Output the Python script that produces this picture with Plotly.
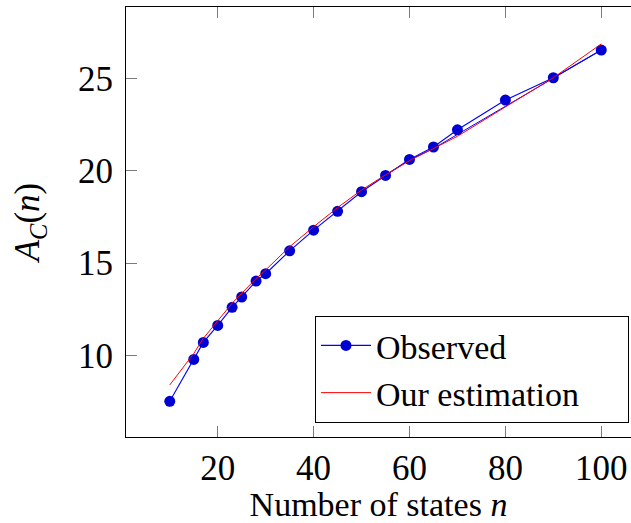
import plotly.graph_objects as go

# Data
n_states = [10, 15, 17, 20, 23, 25, 28, 30, 35, 40, 45, 50, 55, 60, 65, 70, 80, 90, 100]
observed = [7.51, 9.78, 10.70, 11.62, 12.60, 13.16, 14.02, 14.42, 15.66, 16.78,
            17.80, 18.86, 19.74, 20.61, 21.28, 22.21, 23.82, 25.03, 26.53]
estimation = [8.40, 10.10, 10.92, 11.87, 12.82, 13.36, 14.16, 14.62, 15.88, 16.96,
              18.00, 18.95, 19.77, 20.54, 21.18, 21.86, 23.45, 25.03, 26.86]
# faint second blue polyline visible in the upper range
second_n = [55, 60, 65, 70, 80, 90, 100]
second_vals = [19.76, 20.58, 21.20, 21.96, 23.52, 25.03, 26.53]

x_ticks = [20, 40, 60, 80, 100]
y_ticks = [10, 15, 20, 25]

FONT = "Liberation Serif"
FS = 35

fig = go.Figure()
fig.add_trace(go.Scatter(
    x=second_n, y=second_vals, mode="lines",
    line=dict(color="#0000ff", width=1), showlegend=False, hoverinfo="skip"))
fig.add_trace(go.Scatter(
    x=n_states, y=observed, mode="lines+markers", name="Observed",
    line=dict(color="#0000ff", width=1.1),
    marker=dict(color="#0000d4", size=11, line=dict(width=0))))
fig.add_trace(go.Scatter(
    x=n_states, y=estimation, mode="lines", name="Our estimation",
    line=dict(color="#ff0000", width=1)))

fig.update_layout(
    width=631, height=523,
    margin=dict(l=126, r=0, t=7, b=86, autoexpand=False),
    paper_bgcolor="white", plot_bgcolor="white",
    font=dict(family=FONT, size=FS, color="black"),
    showlegend=True,
    legend=dict(
        orientation="h",
        x=0.996, y=0.033, xanchor="right", yanchor="bottom",
        bgcolor="white", bordercolor="black", borderwidth=1,
        font=dict(family=FONT, size=34), itemwidth=50,
        entrywidth=247, entrywidthmode="pixels",
        tracegroupgap=0),
)
fig.update_xaxes(
    range=[0.87, 106.2], tickvals=x_ticks, ticktext=[str(v) for v in x_ticks],
    showgrid=False, zeroline=False,
    showline=True, linecolor="black", linewidth=1, mirror="ticks",
    ticks="inside", ticklen=11, tickcolor="#7a7a7a", tickwidth=1,
    ticklabelstandoff=0,
    title=dict(text="Number of states <i>n</i>", font=dict(family=FONT, size=34), standoff=22),
)
fig.update_yaxes(
    range=[5.58, 28.86], tickvals=y_ticks, ticktext=[str(v) for v in y_ticks],
    showgrid=False, zeroline=False,
    showline=True, linecolor="black", linewidth=1, mirror=False,
    ticks="inside", ticklen=11, tickcolor="#7a7a7a", tickwidth=1,
    ticklabelstandoff=5,
    title=dict(text="<i>A</i><sub><i>C</i></sub>(<i>n</i>)", font=dict(family=FONT, size=FS), standoff=27),
)

fig.write_html("out.html")
